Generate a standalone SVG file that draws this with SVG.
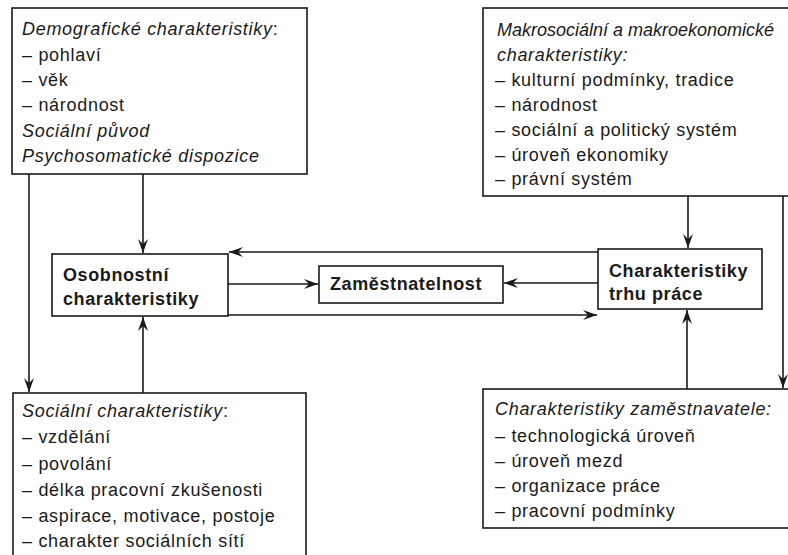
<svg xmlns="http://www.w3.org/2000/svg" width="788" height="555" viewBox="0 0 788 555">
<style>
.box{fill:#fff;stroke:#1a1a1a;stroke-width:1.6}
.t{font-family:"Liberation Sans",Arial,sans-serif;font-size:18px;fill:#1a1a1a;letter-spacing:0.7px}
.i{font-style:italic}
.b{font-weight:bold;letter-spacing:0.6px}
.n{letter-spacing:0px}
.c{fill:none;stroke:#1a1a1a;stroke-width:1.6}
</style>
<defs>
<marker id="ah" viewBox="0 0 14 10" refX="14" refY="5" markerWidth="15" markerHeight="10" orient="auto" markerUnits="userSpaceOnUse">
<path d="M0,0 L14,5 L0,10 L5,5 Z" fill="#1a1a1a"/>
</marker>
</defs>
<rect width="788" height="555" fill="#fff"/>
<g id="connectors">
<line class="c" x1="143" y1="174" x2="143" y2="253" marker-end="url(#ah)"/>
<line class="c" x1="29" y1="174" x2="29" y2="392" marker-end="url(#ah)"/>
<line class="c" x1="143" y1="393" x2="143" y2="317" marker-end="url(#ah)"/>
<line class="c" x1="228" y1="284" x2="318" y2="284" marker-end="url(#ah)"/>
<line class="c" x1="598" y1="283" x2="504" y2="283" marker-end="url(#ah)"/>
<line class="c" x1="228" y1="315" x2="597" y2="315" marker-end="url(#ah)"/>
<line class="c" x1="598" y1="252" x2="229" y2="252" marker-end="url(#ah)"/>
<line class="c" x1="688" y1="196" x2="688" y2="248" marker-end="url(#ah)"/>
<line class="c" x1="783" y1="196" x2="783" y2="388" marker-end="url(#ah)"/>
<line class="c" x1="687" y1="389" x2="687" y2="310" marker-end="url(#ah)"/>
</g>
<g id="demograficke">
<rect class="box" x="12" y="8" width="295" height="166"/>
<text class="t" x="22" y="35"><tspan class="i">Demografické charakteristiky</tspan>:</text>
<text class="t" x="22" y="61">– pohlaví</text>
<text class="t" x="22" y="86">– věk</text>
<text class="t" x="22" y="111">– národnost</text>
<text class="t i" x="22" y="137">Sociální původ</text>
<text class="t i" x="22" y="162">Psychosomatické dispozice</text>
</g>
<g id="makro">
<rect class="box" x="483" y="8" width="320" height="188"/>
<text class="t i n" x="497" y="36">Makrosociální a makroekonomické</text>
<text class="t i" x="497" y="61">charakteristiky:</text>
<text class="t" x="495" y="86">– kulturní podmínky, tradice</text>
<text class="t" x="495" y="111">– národnost</text>
<text class="t" x="495" y="136">– sociální a politický systém</text>
<text class="t" x="495" y="161">– úroveň ekonomiky</text>
<text class="t" x="495" y="185">– právní systém</text>
</g>
<g id="osobnostni">
<rect class="box" x="52" y="254" width="176" height="62"/>
<text class="t b" x="63" y="281">Osobnostní</text>
<text class="t b" x="63" y="305">charakteristiky</text>
</g>
<g id="zamestnatelnost">
<rect class="box" x="319" y="266" width="184" height="37"/>
<text class="t b" x="330" y="290">Zaměstnatelnost</text>
</g>
<g id="trh">
<rect class="box" x="598" y="249" width="164" height="60"/>
<text class="t b" x="609" y="277">Charakteristiky</text>
<text class="t b" x="609" y="300">trhu práce</text>
</g>
<g id="socialni">
<rect class="box" x="13" y="393" width="293" height="180"/>
<text class="t" x="22" y="417"><tspan class="i">Sociální charakteristiky</tspan>:</text>
<text class="t" x="22" y="443">– vzdělání</text>
<text class="t" x="22" y="470">– povolání</text>
<text class="t" x="22" y="496">– délka pracovní zkušenosti</text>
<text class="t" x="22" y="522">– aspirace, motivace, postoje</text>
<text class="t" x="22" y="547">– charakter sociálních sítí</text>
</g>
<g id="zamestnavatel">
<rect class="box" x="483" y="389" width="320" height="139"/>
<text class="t i" x="495" y="415">Charakteristiky zaměstnavatele:</text>
<text class="t" x="495" y="442">– technologická úroveň</text>
<text class="t" x="495" y="467">– úroveň mezd</text>
<text class="t" x="495" y="492">– organizace práce</text>
<text class="t" x="495" y="517">– pracovní podmínky</text>
</g>
</svg>
